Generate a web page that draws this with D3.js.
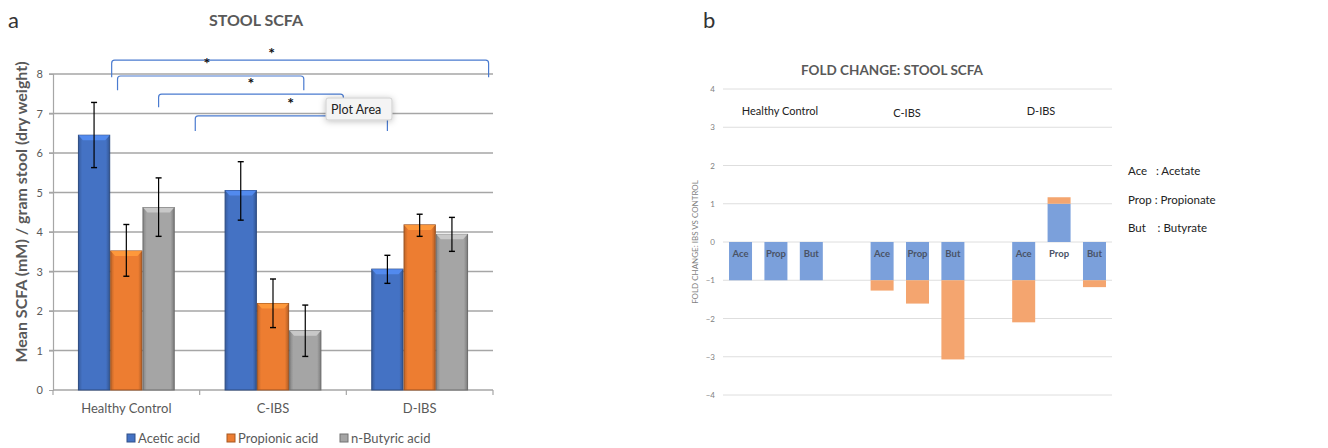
<!DOCTYPE html>
<html>
<head>
<meta charset="utf-8">
<title>Stool SCFA</title>
<script src="https://d3js.org/d3.v7.min.js"></script>
<style>
    body { margin: 0; background: #fff; }
    svg { display: block; font-family: Lato, "Open Sans", sans-serif; }
</style>
</head>
<body>
<svg id="chart" width="1328" height="448"></svg>
<script>
// ---- panel a data ----
const groups = ["Healthy Control", "C-IBS", "D-IBS"];
const acids = ["Acetic acid", "Propionic acid", "n-Butyric acid"];
const acidColors = ["#4472C4", "#ED7D31", "#A5A5A5"];
// mean per group, one array per acid
const aceticMean = [6.45, 5.05, 3.06];
const propionicMean = [3.52, 2.19, 4.18];
const butyricMean = [4.62, 1.50, 3.94];
// error (lower, upper)
const aceticErr = [[5.63, 7.28], [4.30, 5.78], [2.70, 3.41]];
const propionicErr = [[2.88, 4.19], [1.58, 2.81], [3.89, 4.45]];
const butyricErr = [[3.89, 5.37], [0.85, 2.15], [3.51, 4.37]];
const yTicksA = [0, 1, 2, 3, 4, 5, 6, 7, 8];
// significance brackets: ends given as [group index, fraction across the group band]
const brackets = [
    { from: [0, 0.40], to: [2, 0.97], level: 8.35, drop: 0.43 },
    { from: [0, 0.44], to: [1, 0.71], level: 7.95, drop: 0.36 },
    { from: [0, 0.72], to: [1, 0.98], level: 7.49, drop: 0.33 },
    { from: [0, 0.97], to: [2, 0.28], level: 6.94, drop: 0.38 }
];
// asterisks: [group index, fraction, value]
const stars = [[1, 0.05, 8.35], [1, 0.49, 8.6], [1, 0.35, 7.85], [1, 0.62, 7.35]];

// ---- panel b data ----
const foldGroups = ["Healthy Control", "C-IBS", "D-IBS"];
const foldShort = ["Ace", "Prop", "But"];
// stacked parts: blue base and orange extra, per group
const baseHC = [-1, -1, -1], extraHC = [0, 0, 0];
const baseC = [-1, -1, -1], extraC = [-0.27, -0.61, -2.07];
const baseD = [-1, 1, -1], extraD = [-1.10, 0.17, -0.18];
const yTicksB = [-4, -3, -2, -1, 0, 1, 2, 3, 4];
const foldLegend = ["Ace   : Acetate", "Prop : Propionate", "But    : Butyrate"];

const svg = d3.select("#chart");
const grey = "#595959";

// ================= panel a =================
const means = [aceticMean, propionicMean, butyricMean];
const errs = [aceticErr, propionicErr, butyricErr];

const x0 = d3.scaleBand().domain(groups).range([53, 493]);
const x1 = d3.scaleBand().domain(acids).range([x0.bandwidth() * 0.17, x0.bandwidth() * 0.83]);
const y = d3.scaleLinear().domain([0, 8]).range([390, 74]);

svg.append("text").attr("x", 8).attr("y", 28).attr("font-size", 22).attr("fill", "#333").text("a");
svg.append("text").attr("x", 256).attr("y", 26).attr("text-anchor", "middle")
    .attr("font-size", 16).attr("font-weight", "bold").attr("fill", grey).text("STOOL SCFA");

// gradients for bevelled bars
const defs = svg.append("defs");
acidColors.forEach((c, i) => {
    const g = defs.append("linearGradient").attr("id", "grad" + i);
    g.append("stop").attr("offset", "0%").attr("stop-color", d3.color(c).darker(0.6));
    g.append("stop").attr("offset", "12%").attr("stop-color", c);
    g.append("stop").attr("offset", "88%").attr("stop-color", c);
    g.append("stop").attr("offset", "100%").attr("stop-color", d3.color(c).darker(0.8));
});
const sh = defs.append("filter").attr("id", "shadow").attr("x", "-20%").attr("y", "-40%").attr("width", "150%").attr("height", "200%");
sh.append("feDropShadow").attr("dx", 0).attr("dy", 1).attr("stdDeviation", 3).attr("flood-opacity", 0.25);

// grid
svg.append("g").selectAll("line").data(yTicksA.filter(d => d > 0)).join("line")
    .attr("x1", 49).attr("x2", 493)
    .attr("y1", d => y(d)).attr("y2", d => y(d))
    .attr("stroke", "#a6a6a6").attr("stroke-width", 1.5);

// y axis
const yAxisA = svg.append("g").attr("transform", "translate(53,0)")
    .call(d3.axisLeft(y).tickValues(yTicksA).tickSize(4).tickPadding(6));
yAxisA.select(".domain").attr("stroke", "#a6a6a6").attr("stroke-width", 1.2);
yAxisA.selectAll(".tick line").attr("stroke", "#a6a6a6");
yAxisA.selectAll("text").attr("font-size", 11).attr("fill", grey).attr("font-family", "Lato, sans-serif");

svg.append("text")
    .attr("transform", "translate(27,212) rotate(-90)")
    .attr("text-anchor", "middle").attr("font-size", 16).attr("font-weight", "bold").attr("fill", grey)
    .text("Mean SCFA (mM) / gram stool (dry weight)");

// x axis
const xAxisA = svg.append("g").attr("transform", "translate(0,390)")
    .call(d3.axisBottom(x0).tickSize(0).tickPadding(14));
xAxisA.select(".domain").remove();
xAxisA.selectAll("text").attr("font-size", 13).attr("fill", grey).attr("font-family", "Lato, sans-serif");
svg.append("line").attr("x1", 53).attr("x2", 493).attr("y1", y(0)).attr("y2", y(0))
    .attr("stroke", "#a6a6a6").attr("stroke-width", 1.5);
svg.append("g").selectAll("line").data([0, 1, 2, 3]).join("line")
    .attr("x1", d => 53 + d * x0.step()).attr("x2", d => 53 + d * x0.step())
    .attr("y1", y(0)).attr("y2", y(0) + 5).attr("stroke", "#a6a6a6").attr("stroke-width", 1.2);

// bars
const barData = [];
groups.forEach((g, gi) => acids.forEach((a, ai) => {
    barData.push({ g, a, ai, v: means[ai][gi], lo: errs[ai][gi][0], hi: errs[ai][gi][1] });
}));
const bars = svg.append("g").selectAll("g").data(barData).join("g")
    .attr("transform", d => `translate(${x0(d.g) + x1(d.a)},0)`);
bars.append("rect")
    .attr("x", 0.5).attr("width", x1.bandwidth() - 1)
    .attr("y", d => y(d.v)).attr("height", d => y(0) - y(d.v))
    .attr("fill", d => `url(#grad${d.ai})`)
    .attr("stroke", d => d3.color(acidColors[d.ai]).darker(1.2)).attr("stroke-width", 1);
bars.append("path")
    .attr("d", d => {
        const w = x1.bandwidth() - 1, t = y(d.v);
        return `M0.5,${t}H${w + 0.5}L${w - 4},${t + 5}H5Z`;
    })
    .attr("fill", d => d3.color(acidColors[d.ai]).brighter(0.6)).attr("opacity", 0.9);
// error bars
bars.append("line").attr("x1", x1.bandwidth() / 2).attr("x2", x1.bandwidth() / 2)
    .attr("y1", d => y(d.lo)).attr("y2", d => y(d.hi)).attr("stroke", "#000").attr("stroke-width", 1.2);
bars.selectAll(".cap").data(d => [d.lo, d.hi]).join("line").attr("class", "cap")
    .attr("x1", x1.bandwidth() / 2 - 3).attr("x2", x1.bandwidth() / 2 + 3)
    .attr("y1", d => y(d)).attr("y2", d => y(d)).attr("stroke", "#000").attr("stroke-width", 1.4);

// brackets
const gx = ([gi, f]) => x0(groups[gi]) + f * x0.bandwidth();
const bg = svg.append("g").attr("fill", "none").attr("stroke", "#4a7bd0").attr("stroke-width", 1.2);
brackets.forEach(b => {
    const xa = gx(b.from), xb = gx(b.to), yt = y(b.level), yd = y(b.level - b.drop);
    bg.append("path").attr("d", `M${xa},${yd}V${yt + 3}Q${xa},${yt} ${xa + 3},${yt}H${xb - 3}Q${xb},${yt} ${xb},${yt + 3}V${yd}`);
});
svg.append("g").selectAll("text").data(stars).join("text")
    .attr("x", d => gx(d)).attr("y", d => y(d[2]) + 9).attr("text-anchor", "middle")
    .attr("font-size", 16).attr("font-weight", "bold").attr("fill", "#111").text("*");

// "Plot Area" hover tooltip
const tip = svg.append("g").attr("transform", "translate(326,98)");
tip.append("rect").attr("width", 66).attr("height", 22).attr("rx", 2)
    .attr("fill", "#f4f4f4").attr("stroke", "#cfcfcf").attr("filter", "url(#shadow)");
tip.append("text").attr("x", 5).attr("y", 16).attr("font-size", 12.5).attr("fill", "#222").text("Plot Area");

// legend
const legA = svg.append("g").selectAll("g").data(acids).join("g")
    .attr("transform", (d, i) => `translate(${[127, 227, 340][i]},432)`);
legA.append("rect").attr("width", 8).attr("height", 8).attr("y", 2)
    .attr("fill", (d, i) => acidColors[i]).attr("stroke", (d, i) => d3.color(acidColors[i]).darker(1));
legA.append("text").attr("x", 11).attr("y", 11).attr("font-size", 13).attr("fill", grey).text(d => d);

// ================= panel b =================
const base = [baseHC, baseC, baseD];
const extra = [extraHC, extraC, extraD];
const slots = [];
foldGroups.forEach((g, gi) => {
    foldShort.forEach((s, si) => slots.push({ key: g + "|" + s, g, gi, s, si }));
    if (gi < foldGroups.length - 1) slots.push({ key: "gap" + gi, gap: true });
});
const xb = d3.scaleBand().domain(slots.map(d => d.key)).range([723, 1112]).paddingInner(0.35).paddingOuter(0.17);
const yb = d3.scaleLinear().domain([-4, 4]).range([395, 89]);

svg.append("text").attr("x", 703).attr("y", 28).attr("font-size", 22).attr("fill", "#333").text("b");
svg.append("text").attr("x", 892).attr("y", 75).attr("text-anchor", "middle")
    .attr("font-size", 13.5).attr("font-weight", "bold").attr("fill", grey).text("FOLD CHANGE: STOOL SCFA");

svg.append("g").selectAll("line").data(yTicksB).join("line")
    .attr("x1", 723).attr("x2", 1112).attr("y1", d => yb(d)).attr("y2", d => yb(d))
    .attr("stroke", "#dedede").attr("stroke-width", 1);
const yAxisB = svg.append("g").attr("transform", "translate(723,0)")
    .call(d3.axisLeft(yb).tickValues(yTicksB).tickSize(0).tickPadding(8));
yAxisB.select(".domain").remove();
yAxisB.selectAll("text").attr("font-size", 8).attr("fill", "#7f7f7f").attr("font-family", "Lato, sans-serif");
svg.append("text").attr("transform", "translate(698,242) rotate(-90)").attr("text-anchor", "middle")
    .attr("font-size", 8).attr("fill", "#7f7f7f").text("FOLD CHANGE: IBS VS CONTROL");

const fb = slots.filter(d => !d.gap);
const fg = svg.append("g");
fg.selectAll("rect.base").data(fb).join("rect").attr("class", "base")
    .attr("x", d => xb(d.key)).attr("width", xb.bandwidth())
    .attr("y", d => yb(Math.max(0, base[d.gi][d.si])))
    .attr("height", d => Math.abs(yb(base[d.gi][d.si]) - yb(0)))
    .attr("fill", "#7ba0db");
fg.selectAll("rect.extra").data(fb.filter(d => extra[d.gi][d.si] !== 0)).join("rect").attr("class", "extra")
    .attr("x", d => xb(d.key)).attr("width", xb.bandwidth())
    .attr("y", d => {
        const b0 = base[d.gi][d.si], b1 = b0 + extra[d.gi][d.si];
        return yb(Math.max(b0, b1));
    })
    .attr("height", d => {
        const b0 = base[d.gi][d.si], b1 = b0 + extra[d.gi][d.si];
        return Math.abs(yb(b0) - yb(b1));
    })
    .attr("fill", "#f4a56f");
fg.selectAll("text").data(fb).join("text")
    .attr("x", d => xb(d.key) + xb.bandwidth() / 2).attr("y", yb(-0.4))
    .attr("text-anchor", "middle").attr("font-size", 9.5).attr("font-weight", "bold")
    .attr("fill", "#4a5366").text(d => d.s);

// group titles
const gTitleX = [780, 907, 1041], gTitleY = [115, 117, 115];
svg.append("g").selectAll("text").data(foldGroups).join("text")
    .attr("x", (d, i) => gTitleX[i]).attr("y", (d, i) => gTitleY[i]).attr("text-anchor", "middle")
    .attr("font-size", 11).attr("fill", "#222").text(d => d);

// abbreviation legend
svg.append("g").selectAll("text").data(foldLegend).join("text")
    .attr("x", 1128).attr("y", (d, i) => 175 + i * 28.5)
    .attr("xml:space", "preserve").style("white-space", "pre")
    .attr("font-size", 11.5).attr("fill", "#222").text(d => d);
</script>
</body>
</html>
